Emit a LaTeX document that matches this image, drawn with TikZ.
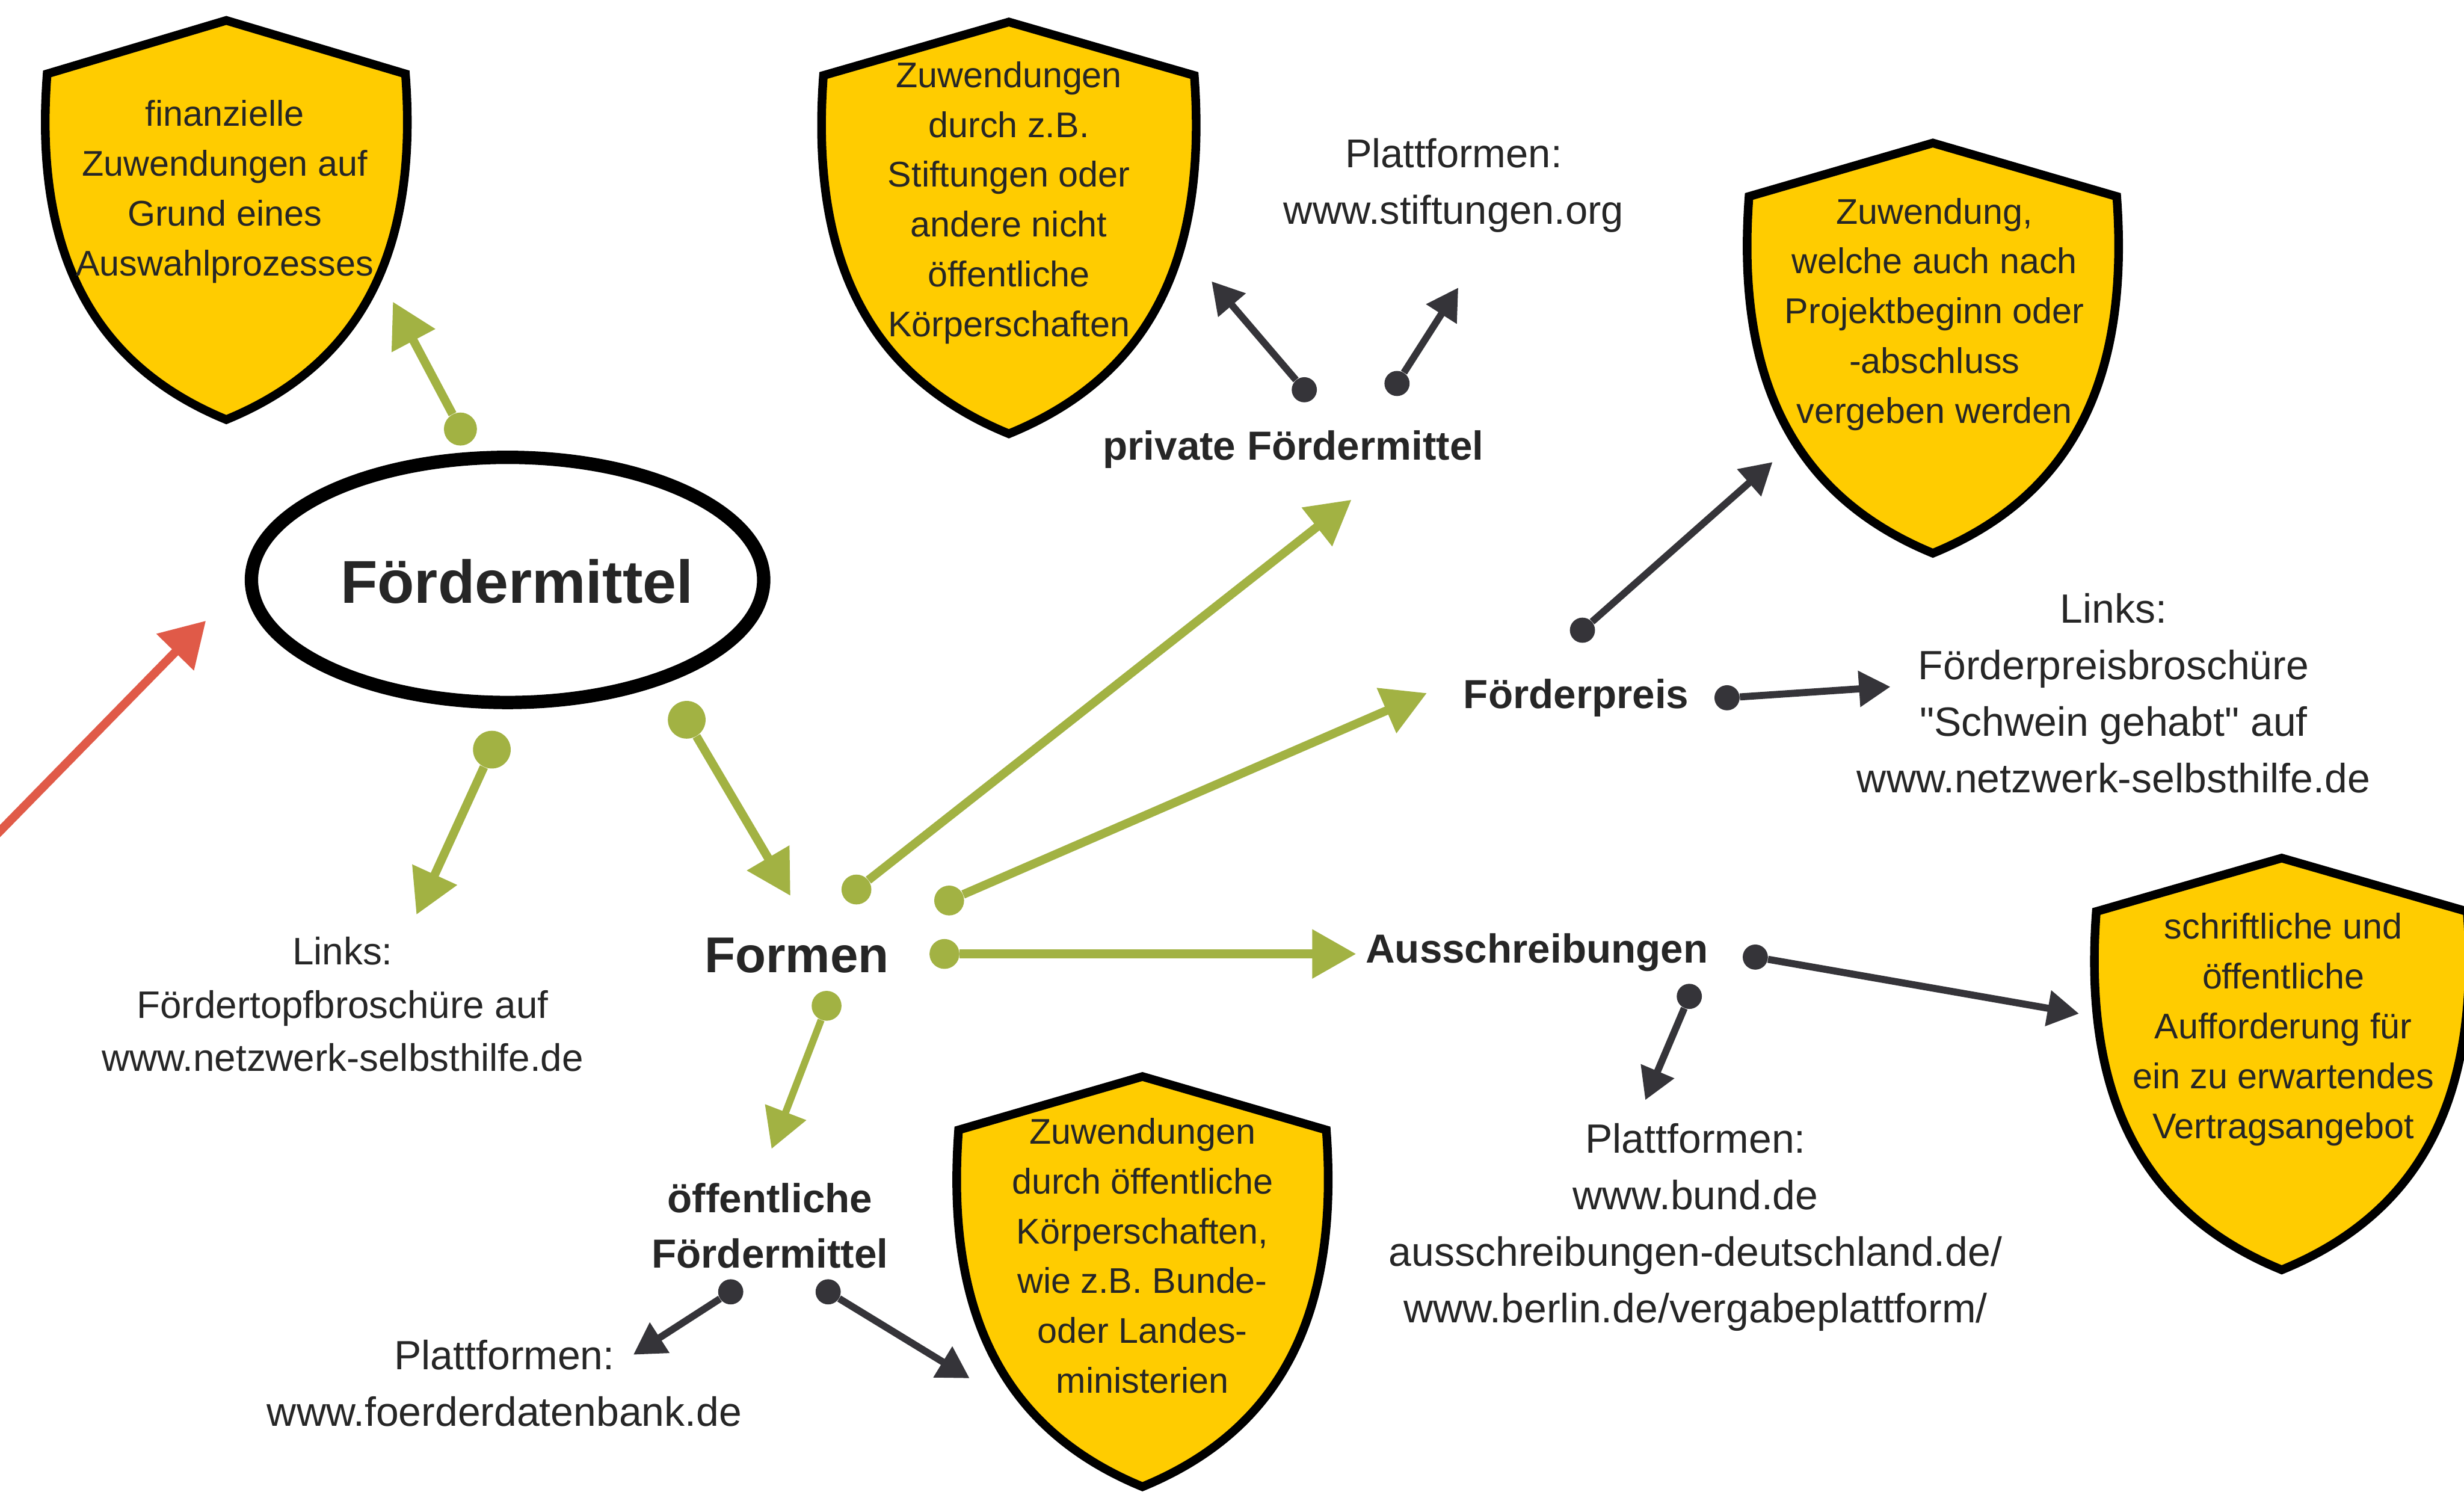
\documentclass[tikz,border=0pt]{standalone}
\usepackage{fontspec}
\setmainfont{Liberation Sans}[Ligatures=TeXOff]
\usetikzlibrary{arrows.meta,shapes.geometric}
\definecolor{shieldyellow}{HTML}{FFCC00}
\definecolor{leaf}{HTML}{A2B243}
\definecolor{ink}{HTML}{353439}
\definecolor{txt}{HTML}{262626}
\definecolor{redarrow}{HTML}{E05A48}
\tikzset{
  shieldline/.style={draw=black, line width=5.5pt, fill=shieldyellow, line join=miter},
  shieldtext/.style={align=center, text=txt, font=\fontsize{22.7}{31.7}\selectfont, inner sep=0pt},
  plaintext/.style={align=center, text=txt, font=\fontsize{26}{36}\selectfont, inner sep=0pt},
  boldlabel/.style={align=center, text=txt, font=\bfseries\fontsize{25.8}{35}\selectfont, inner sep=0pt},
  gdot/.style={circle, fill=leaf, inner sep=0pt, minimum size=#1},
  ddot/.style={circle, fill=ink, inner sep=0pt, minimum size=#1},
  garrow/.style={draw=leaf, line width=5.5pt, -{Triangle[length=28pt,width=30pt]}},
  darrow/.style={draw=ink, line width=4.5pt, -{Triangle[length=20pt,width=22pt]}},
}
% cx, corner y, half width, corner-to-bottom height
\newcommand\drawshield[4]{%
  \path[shieldline] (#1,#2-34) -- ({#1+#3},#2)
    .. controls ({#1+#3+8},{#2+0.48*#4}) and ({#1+#3-23},{#2+0.83*#4}) .. (#1,{#2+#4})
    .. controls ({#1-#3+23},{#2+0.83*#4}) and ({#1-#3-8},{#2+0.48*#4}) .. ({#1-#3},#2) -- cycle;}
\begin{document}
\begin{tikzpicture}[x=1pt,y=-1pt]
\useasboundingbox (0,0) rectangle (1568,951);
\fill[white] (0,0) rectangle (1568,951);

% shields
\drawshield{144}{47}{114}{220}
\drawshield{642}{48}{118}{228}
\drawshield{1230}{125}{117}{227}
\drawshield{1452}{580}{118}{228}
\drawshield{727}{719}{117}{227}

\node[shieldtext] (s1) at (143,122) {finanzielle\\Zuwendungen auf\\Grund eines\\Auswahlprozesses};
\node[shieldtext] (s2) at (642,129) {Zuwendungen\\durch z.B.\\Stiftungen oder\\andere nicht\\öffentliche\\Körperschaften};
\node[shieldtext] (s3) at (1231,200) {Zuwendung,\\welche auch nach\\Projektbeginn oder\\-abschluss\\vergeben werden};
\node[shieldtext] (s4) at (1453,655) {schriftliche und\\öffentliche\\Aufforderung für\\ein zu erwartendes\\Vertragsangebot};
\node[shieldtext] (s5) at (727,799) {Zuwendungen\\durch öffentliche\\Körperschaften,\\wie z.B. Bunde-\\oder Landes-\\ministerien};

% central ellipse
\node[draw=black, line width=8.5pt, ellipse, minimum width=326pt, minimum height=156pt, inner sep=0pt] (ring) at (323,369) {};
\node[boldlabel, font=\bfseries\fontsize{38.5}{40}\selectfont] (main) at (329,370) {Fördermittel};

% labels
\node[boldlabel, font=\bfseries\fontsize{32}{36}\selectfont] (formen) at (507,608) {Formen};
\node[boldlabel] (privat) at (823,286) {private Fördermittel};
\node[boldlabel] (preis) at (1003,444) {Förderpreis};
\node[boldlabel] (aus) at (978,606) {Ausschreibungen};
\node[boldlabel] (oeff) at (490,780) {öffentliche\\Fördermittel};

\node[plaintext, font=\fontsize{25.6}{36}\selectfont] (plat1) at (925,118) {Plattformen:\\www.stiftungen.org};
\node[plaintext, font=\fontsize{24.4}{34}\selectfont] (links1) at (218,639) {Links:\\Fördertopfbroschüre auf\\www.netzwerk-selbsthilfe.de};
\node[plaintext] (links2) at (1345,441) {Links:\\Förderpreisbroschüre\\"Schwein gehabt" auf\\www.netzwerk-selbsthilfe.de};
\node[plaintext] (plat2) at (1079,781) {Plattformen:\\www.bund.de\\ausschreibungen-deutschland.de/\\www.berlin.de/vergabeplattform/};
\node[plaintext] (plat3) at (321,880) {Plattformen:\\www.foerderdatenbank.de};

% green connectors
\node[gdot=21pt] (g1) at (293,273) {};
\node[gdot=24pt] (g2) at (313,477) {};
\node[gdot=24pt] (g3) at (437,458) {};
\node[gdot=19pt] (g4) at (545,566) {};
\node[gdot=19pt] (g5) at (604,573) {};
\node[gdot=19pt] (g6) at (601,607) {};
\node[gdot=19pt] (g7) at (526,640) {};
\coordinate (g1t) at (250,192);
\coordinate (g2t) at (265,582);
\coordinate (g3t) at (503,570);
\coordinate (g4t) at (860,318);
\coordinate (g5t) at (908,441);
\coordinate (g6t) at (863,607);
\coordinate (g7t) at (491,731);
\draw[garrow] (g1) -- (g1t);
\draw[garrow] (g2) -- (g2t);
\draw[garrow] (g3) -- (g3t);
\draw[garrow] (g4) -- (g4t);
\draw[garrow] (g5) -- (g5t);
\draw[garrow] (g6) -- (g6t);
\draw[garrow, line width=4.5pt, -{Triangle[length=25pt,width=27pt]}] (g7) -- (g7t);

% dark connectors
\node[ddot=16pt] (d1) at (830,248) {};
\node[ddot=16pt] (d2) at (889,244) {};
\node[ddot=16pt] (d3) at (1007,401) {};
\node[ddot=16pt] (d4) at (1099,444) {};
\node[ddot=16pt] (d5) at (1117,609) {};
\node[ddot=16pt] (d6) at (1075,634) {};
\node[ddot=16pt] (d7) at (465,822) {};
\node[ddot=16pt] (d8) at (527,822) {};
\coordinate (d1t) at (771,179);
\coordinate (d2t) at (928,183);
\coordinate (d3t) at (1128,294);
\coordinate (d4t) at (1203,437);
\coordinate (d5t) at (1323,645);
\coordinate (d6t) at (1047,700);
\coordinate (d7t) at (403,862);
\coordinate (d8t) at (617,877);
\draw[darrow] (d1) -- (d1t);
\draw[darrow] (d2) -- (d2t);
\draw[darrow] (d3) -- (d3t);
\draw[darrow] (d4) -- (d4t);
\draw[darrow] (d5) -- (d5t);
\draw[darrow] (d6) -- (d6t);
\draw[darrow] (d7) -- (d7t);
\draw[darrow] (d8) -- (d8t);

% red arrow
\coordinate (r0) at (-8,537);
\coordinate (rt) at (131,395);
\draw[draw=redarrow, line width=5.5pt, -{Triangle[length=28pt,width=32pt]}] (r0) -- (rt);
\end{tikzpicture}
\end{document}
